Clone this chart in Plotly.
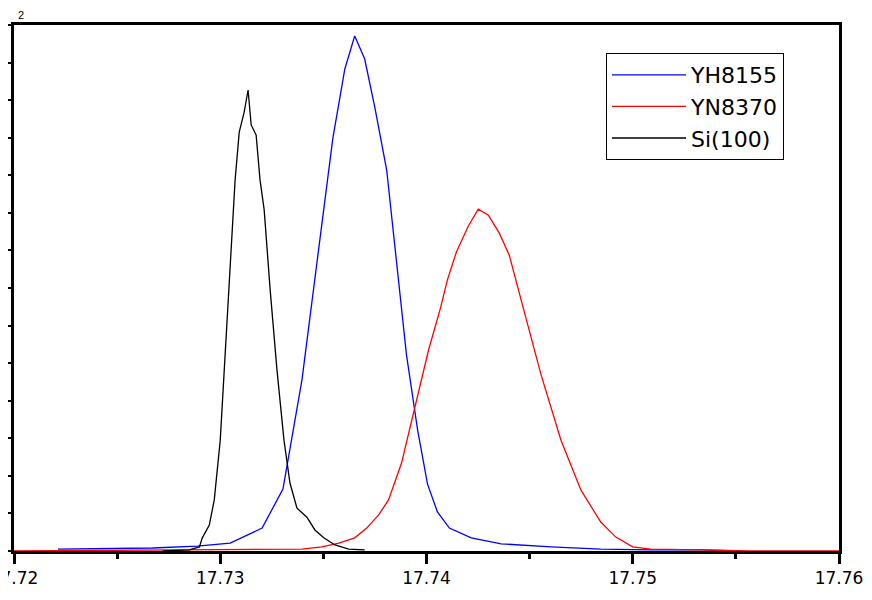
import plotly.graph_objects as go

# ---- data ----
yh8155_x = [17.72213, 17.72672, 17.72889, 17.73048, 17.73203, 17.73304, 17.73396, 17.73502,
            17.73546, 17.73604, 17.73652, 17.73700, 17.73749, 17.73807, 17.73855, 17.73903,
            17.73957, 17.74005, 17.74053, 17.74111, 17.74217, 17.74362, 17.74604, 17.74845,
            17.75087, 17.75329, 17.75522]
yh8155_y = [0.05, 0.08, 0.13, 0.21, 0.61, 1.65, 4.55, 9.21,
            10.99, 12.83, 13.71, 13.10, 11.82, 10.14, 7.75, 5.22,
            3.22, 1.78, 1.04, 0.61, 0.35, 0.19, 0.11, 0.05,
            0.03, 0.03, 0.0]

yn8370_x = [17.72000, 17.72913, 17.73396, 17.73493, 17.73575, 17.73652, 17.73710, 17.73768,
            17.73816, 17.73879, 17.73952, 17.74010, 17.74068, 17.74101, 17.74145, 17.74203,
            17.74251, 17.74300, 17.74353, 17.74401, 17.74469, 17.74556, 17.74652, 17.74749,
            17.74845, 17.74918, 17.75000, 17.75087, 17.75329, 17.75570, 17.76000]
yn8370_y = [0.0, 0.03, 0.05, 0.11, 0.21, 0.35, 0.61, 0.96,
            1.36, 2.34, 4.02, 5.35, 6.47, 7.21, 7.96, 8.65,
            9.10, 8.94, 8.46, 7.88, 6.47, 4.68, 2.95, 1.62,
            0.77, 0.37, 0.11, 0.05, 0.03, 0.0, 0.0]

si100_x = [17.72720, 17.72850, 17.72899, 17.72913, 17.72947, 17.72971, 17.73000, 17.73039,
           17.73072, 17.73092, 17.73116, 17.73135, 17.73150, 17.73174, 17.73193, 17.73213,
           17.73242, 17.73275, 17.73309, 17.73338, 17.73372, 17.73420, 17.73459, 17.73502,
           17.73556, 17.73623, 17.73700]
si100_y = [0.0, 0.03, 0.11, 0.35, 0.69, 1.36, 2.95, 6.68,
           9.87, 11.15, 11.68, 12.27, 11.34, 11.07, 9.87, 9.08,
           6.95, 4.82, 2.95, 1.81, 1.14, 0.90, 0.56, 0.35,
           0.16, 0.05, 0.03]

x_ticks = [17.72, 17.73, 17.74, 17.75, 17.76]
x_tick_labels = ["17.72", "17.73", "17.74", "17.75", "17.76"]
corner_label = "2"

FONT = "DejaVu Sans, Liberation Sans, Arial, sans-serif"

# the page body has an 8px margin, so the figure is drawn 8px in from the top-left
W, H = 864, 592
L, T, PW, PH = 6, 17, 825, 526

fig = go.Figure()
fig.add_trace(go.Scatter(x=yh8155_x, y=yh8155_y, mode="lines", name="YH8155",
                         line=dict(color="#0000ff", width=1.3)))
fig.add_trace(go.Scatter(x=yn8370_x, y=yn8370_y, mode="lines", name="YN8370",
                         line=dict(color="#ff0000", width=1.3)))
fig.add_trace(go.Scatter(x=si100_x, y=si100_y, mode="lines", name="Si(100)",
                         line=dict(color="#000000", width=1.3)))

fig.update_layout(
    width=W, height=H,
    margin=dict(l=L, r=W - L - PW, t=T, b=H - T - PH, autoexpand=False),
    paper_bgcolor="white", plot_bgcolor="white",
    font=dict(family=FONT, color="black"),
    showlegend=True,
    title=dict(text=corner_label, x=13 / W, y=1 - 7 / H,
               xref="container", yref="container",
               xanchor="center", yanchor="middle",
               font=dict(size=11, family="Liberation Sans, Arial, sans-serif")),
    legend=dict(x=(598 - L) / PW, y=1 - (45 - T) / PH,
                xanchor="left", yanchor="top",
                bgcolor="white", bordercolor="black", borderwidth=1,
                font=dict(size=22, family=FONT), itemwidth=74,
                tracegroupgap=0),
    xaxis=dict(range=[17.72, 17.76], tickvals=x_ticks, ticktext=x_tick_labels,
               ticks="outside", ticklen=10, tickwidth=3, tickcolor="black",
               showline=True, linewidth=3, linecolor="black", mirror=True,
               showgrid=False, zeroline=False, automargin=False,
               ticklabeloverflow="allow",
               tickfont=dict(size=17, family=FONT, color="black"),
               minor=dict(dtick=0.005, ticks="outside", ticklen=5, tickwidth=3,
                          tickcolor="black", showgrid=False)),
    yaxis=dict(range=[0, 14], dtick=1, ticks="outside", ticklen=7, tickwidth=2,
               tickcolor="black", showticklabels=False, automargin=False,
               showline=True, linewidth=3, linecolor="black", mirror=True,
               showgrid=False, zeroline=False),
)

fig.write_html("out.html")
